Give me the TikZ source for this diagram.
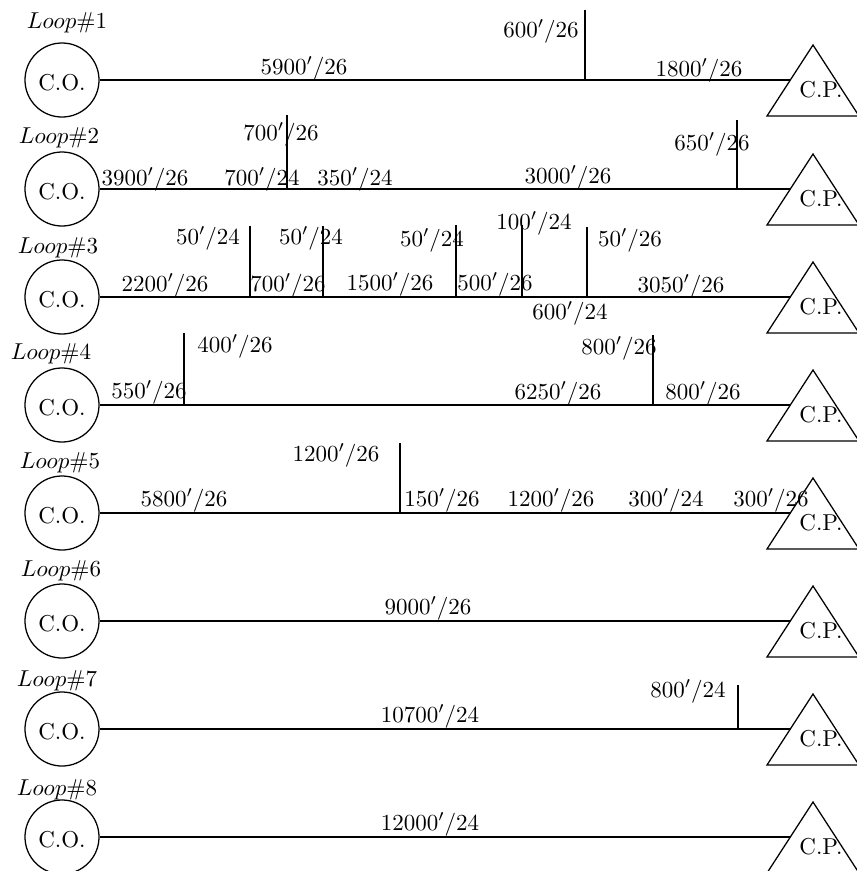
\documentclass[tikz,border=0pt]{standalone}
\begin{document}
\begin{tikzpicture}[x=0.435pt,y=-0.435pt,
  wire/.style={line width=0.55pt},
  co/.style={circle,draw,line width=0.55pt,minimum size=32.2pt,inner sep=0pt},
  cplbl/.style={inner sep=0pt,anchor=base},
  seg/.style={inner sep=0pt,anchor=base},
  looplbl/.style={inner sep=0pt,anchor=base}]
\useasboundingbox (0,0) rectangle (856,871);

\foreach \i/\y/\lx/\ly in {1/80/67/28, 2/189/59/143, 3/297/58/253, 4/405/51/359, 5/513/60/468, 6/621/61/576, 7/729/57/686, 8/837/57/795} {
  \node[co] (co\i) at (62,\y) {\raisebox{-4.6pt}[0pt][0pt]{C.O.}};
  \node[cplbl] (cp\i) at (821,\y+17) {C.P.};
  \draw[wire] (813,\y-35) -- (767,\y+36) -- (859,\y+36) -- cycle;
  \coordinate (e\i) at (790,\y);
  \draw[wire] (co\i) -- (e\i);
  \node[looplbl] (loop\i) at (\lx,\ly) {$Loop\#\i$};
}

% branches: base on line, top end
\foreach \n/\x/\yb/\yt in {b1/585/80/10,
  b2/287/189/115, b3/737/189/120,
  b4/250/297/226, b5/323/297/226, b6/456/297/225, b7/522/297/225, b8/587/297/227,
  b9/184/405/333, b10/653/405/335,
  b11/400/513/443,
  b12/738/729/685} {
  \coordinate (\n) at (\x,\yb);
  \coordinate (\n t) at (\x,\yt);
  \draw[wire] (\n) -- (\n t);
}

% Loop 1
\node[seg] (l1a) at (304,74) {$5900'/26$};
\node[seg] (l1b) at (541,37) {$600'/26$};
\node[seg] (l1c) at (699,76) {$1800'/26$};
% Loop 2
\node[seg] (l2a) at (145,185) {$3900'/26$};
\node[seg] (l2b) at (281,140) {$700'/26$};
\node[seg] (l2c) at (262,185) {$700'/24$};
\node[seg] (l2d) at (355,185) {$350'/24$};
\node[seg] (l2e) at (568,183) {$3000'/26$};
\node[seg] (l2f) at (712,150) {$650'/26$};
% Loop 3
\node[seg] (l3a) at (165,291) {$2200'/26$};
\node[seg] (l3b) at (208,244) {$50'/24$};
\node[seg] (l3c) at (288,291) {$700'/26$};
\node[seg] (l3d) at (311,244) {$50'/24$};
\node[seg] (l3e) at (390,290) {$1500'/26$};
\node[seg] (l3f) at (432,246) {$50'/24$};
\node[seg] (l3g) at (495,290) {$500'/26$};
\node[seg] (l3h) at (534,229) {$100'/24$};
\node[seg] (l3i) at (630,246) {$50'/26$};
\node[seg] (l3j) at (570,319) {$600'/24$};
\node[seg] (l3k) at (681,292) {$3050'/26$};
% Loop 4
\node[seg] (l4a) at (149,398) {$550'/26$};
\node[seg] (l4b) at (235,352) {$400'/26$};
\node[seg] (l4c) at (558,399) {$6250'/26$};
\node[seg] (l4d) at (619,354) {$800'/26$};
\node[seg] (l4e) at (703,399) {$800'/26$};
% Loop 5
\node[seg] (l5a) at (184,506) {$5800'/26$};
\node[seg] (l5b) at (336,461) {$1200'/26$};
\node[seg] (l5c) at (442,506) {$150'/26$};
\node[seg] (l5d) at (551,506) {$1200'/26$};
\node[seg] (l5e) at (666,506) {$300'/24$};
\node[seg] (l5f) at (771,506) {$300'/26$};
% Loop 6
\node[seg] (l6a) at (428,614) {$9000'/26$};
% Loop 7
\node[seg] (l7a) at (430,722) {$10700'/24$};
\node[seg] (l7b) at (688,697) {$800'/24$};
% Loop 8
\node[seg] (l8a) at (430,830) {$12000'/24$};
\end{tikzpicture}
\end{document}
